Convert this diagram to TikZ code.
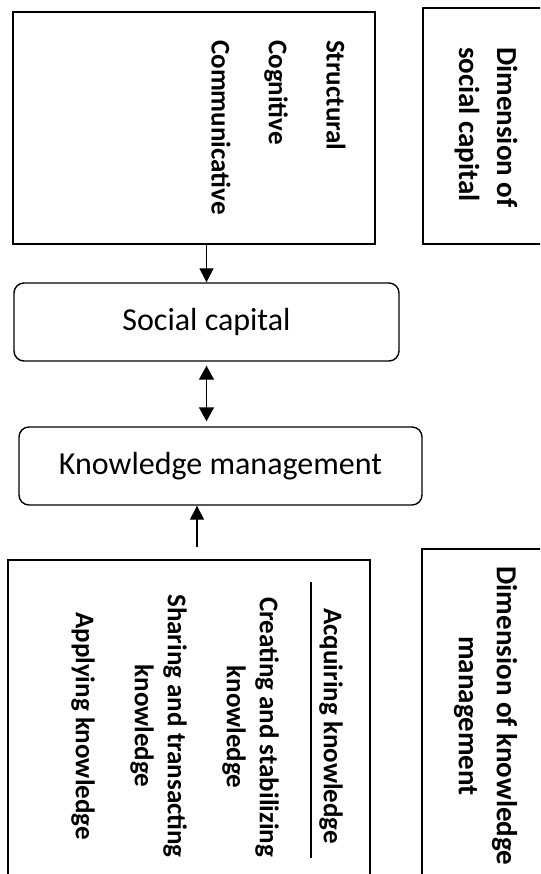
\documentclass[tikz,border=0pt]{standalone}
\usepackage{fontspec}
\setmainfont{Carlito}
\usetikzlibrary{arrows.meta}
\begin{document}
\begin{tikzpicture}[x=1pt,y=-1pt,
  box/.style={draw,line width=1.4pt,inner sep=0pt},
  rbox/.style={box,rounded corners=10pt,font=\fontsize{32}{38}\selectfont},
  item/.style={font=\bfseries\fontsize{27}{33}\selectfont,rotate=-90,inner sep=0pt},
  dimtitle/.style={font=\bfseries\fontsize{29}{38}\selectfont,rotate=-90,inner sep=0pt},
  arr/.style={-{Triangle[length=14pt,width=14pt]},line width=1.4pt},
  dbl/.style={{Triangle[length=14pt,width=15pt]}-{Triangle[length=14pt,width=15pt]},line width=1.4pt}]
\useasboundingbox (0,0) rectangle (540,874);
\clip (0,0) rectangle (540,874);

% outer boxes
\node[box,minimum width=362pt,minimum height=232pt] (tl) at (194,128) {};
\node[box,minimum width=137pt,minimum height=236pt] (tr) at (491.5,126) {};
\node[box,minimum width=362pt,minimum height=340pt] (bl) at (189,730) {};
\node[box,minimum width=138pt,minimum height=351pt] (br) at (491,724.5) {};

% main boxes
\node[rbox,minimum width=385pt,minimum height=78pt] (sc) at (206.5,322) {Social capital};
\node[rbox,minimum width=403pt,minimum height=78pt] (km) at (220.5,466) {Knowledge management};

% dimensions of social capital
\node[item,anchor=west] (struc) at (336,40) {Structural};
\node[item,anchor=west] (cogn) at (276,40) {Cognitive};
\node[item,anchor=west] (comm) at (221,40) {Communicative};
\node[dimtitle,align=left,anchor=west] (dimsc) at (486,47) {Dimension of\\social capital};

% dimensions of knowledge management
\node[item] (acq) at (331,726) {Acquiring knowledge};
\node[item,align=center] (crea) at (250.5,727) {Creating and stabilizing\\knowledge};
\node[item,align=center] (shar) at (158.5,726) {Sharing and transacting\\knowledge};
\node[item] (appl) at (83,726) {Applying knowledge};
\draw[line width=1.4pt] (311,582) -- (311,858);
\node[dimtitle,align=center] (dimkm) at (485.5,716) {Dimension of knowledge\\management};

% links
\draw[arr] (sc.north |- tl.south) -- (sc.north);
\draw[dbl,shorten <=4pt,shorten >=5pt] (sc.south) -- (sc.south |- km.north);
\coordinate (up) at (197,547);
\draw[arr] (up) -- (up |- km.south);
\end{tikzpicture}
\end{document}
